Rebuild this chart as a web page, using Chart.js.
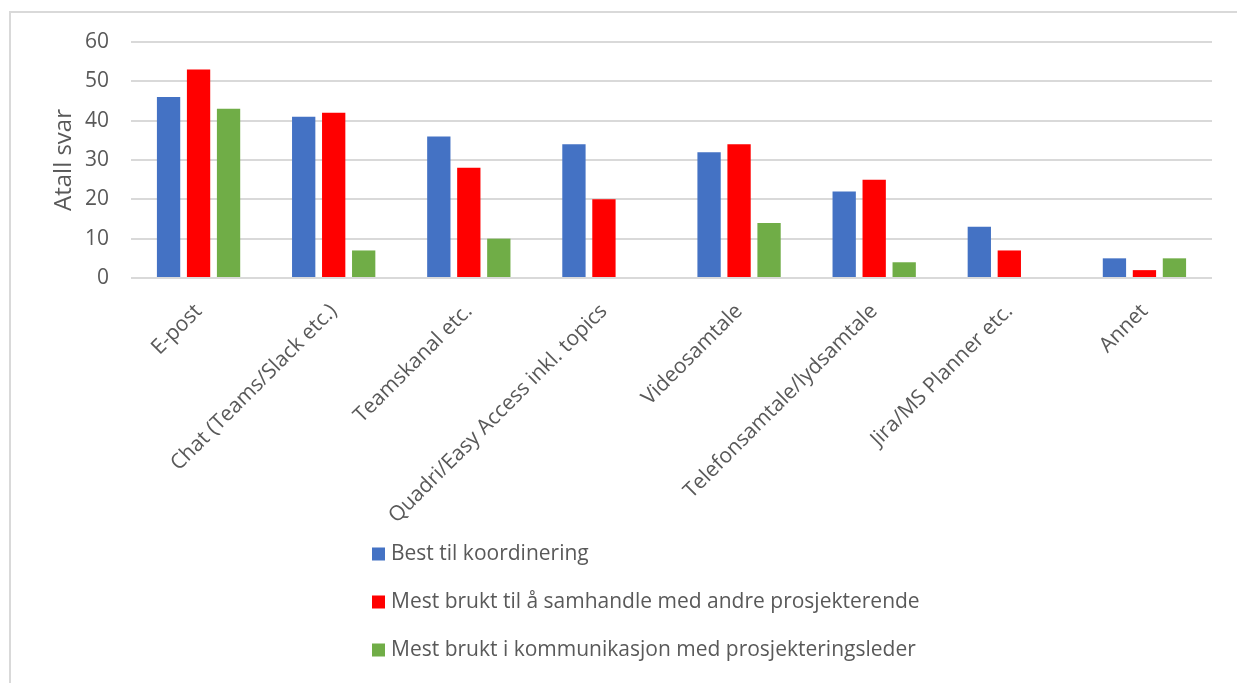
<!DOCTYPE html>
<html>
<head>
<meta charset="utf-8">
<script src="https://cdn.jsdelivr.net/npm/chart.js@4/dist/chart.umd.min.js"></script>
<style>
  html, body { margin: 0; padding: 0; background: #ffffff; }
  #wrap { position: relative; width: 1237px; height: 683px; }
  canvas { display: block; }
</style>
</head>
<body>
<div id="wrap"><canvas id="c" width="1237" height="683"></canvas></div>
<script>
// Categories (communication channels)
const categories = [
  'E-post',
  'Chat (Teams/Slack etc.)',
  'Teamskanal etc.',
  'Quadri/Easy Access inkl. topics',
  'Videosamtale',
  'Telefonsamtale/lydsamtale',
  'Jira/MS Planner etc.',
  'Annet'
];

// Series names
const seriesNames = [
  'Best til koordinering',
  'Mest brukt til å samhandle med andre prosjekterende',
  'Mest brukt i kommunikasjon med prosjekteringsleder'
];

// Number of answers per series
const bestKoordinering = [46, 41, 36, 34, 32, 22, 13, 5];
const samhandleProsjekterende = [53, 42, 28, 20, 34, 25, 7, 2];
const kommunikasjonLeder = [43, 7, 10, 0, 14, 4, 0, 5];

// Y axis ticks
const yTicks = [0, 10, 20, 30, 40, 50, 60];

const colors = ['#4472C4', '#FF0000', '#70AD47'];
const textColor = '#595959';
const gridColor = '#D9D9D9';
const FONT = '"Open Sans", "DejaVu Sans", sans-serif';

// Outer frame (left and top edges) of the chart object
const framePlugin = {
  id: 'frame',
  beforeDraw(chart) {
    const ctx = chart.ctx;
    ctx.save();
    ctx.strokeStyle = '#D9D9D9';
    ctx.lineWidth = 2;
    ctx.beginPath();
    ctx.moveTo(10, chart.height);
    ctx.lineTo(10, 12);
    ctx.lineTo(chart.width, 12);
    ctx.stroke();
    ctx.restore();
  }
};

// Legend stacked vertically below the axis labels
const stackedLegend = {
  id: 'stackedLegend',
  afterDraw(chart, args, opts) {
    const ctx = chart.ctx;
    ctx.save();
    ctx.font = opts.fontSize + 'px ' + FONT;
    ctx.textBaseline = 'middle';
    ctx.textAlign = 'left';
    chart.data.datasets.forEach((ds, i) => {
      const cy = opts.top + i * opts.rowGap;
      ctx.fillStyle = ds.backgroundColor;
      ctx.fillRect(opts.left, cy - opts.box / 2, opts.box, opts.box);
      ctx.fillStyle = textColor;
      ctx.fillText(ds.label, opts.left + opts.box + 6, cy);
    });
    ctx.restore();
  }
};

const datasets = [bestKoordinering, samhandleProsjekterende, kommunikasjonLeder].map((vals, i) => ({
  label: seriesNames[i],
  data: vals,
  backgroundColor: colors[i],
  borderWidth: 0,
  categoryPercentage: 0.666,
  barPercentage: 0.777
}));

new Chart(document.getElementById('c'), {
  type: 'bar',
  data: { labels: categories, datasets },
  plugins: [framePlugin, stackedLegend],
  options: {
    responsive: false,
    animation: false,
    layout: { padding: { top: 42, left: 40, right: 25, bottom: 140 } },
    plugins: {
      legend: { display: false },
      tooltip: { enabled: false },
      stackedLegend: { left: 372, top: 554, rowGap: 48, box: 13, fontSize: 21 }
    },
    scales: {
      x: {
        grid: { display: false },
        border: { display: false },
        ticks: {
          color: textColor,
          font: { family: FONT, size: 21 },
          minRotation: 45,
          maxRotation: 45,
          autoSkip: false,
          padding: 13
        },
        afterFit(scale) { scale.height = 265; }
      },
      y: {
        min: 0,
        max: 60,
        afterBuildTicks(scale) { scale.ticks = yTicks.map(v => ({ value: v })); },
        grid: { color: gridColor, lineWidth: 2, drawTicks: false },
        border: { display: false },
        ticks: {
          color: textColor,
          font: { family: FONT, size: 21 },
          padding: 22
        },
        title: {
          display: true,
          text: 'Atall svar',
          color: textColor,
          font: { family: FONT, size: 24 },
          padding: { top: 10, bottom: 0 }
        },
        afterFit(scale) { scale.width = 91; }
      }
    }
  }
});
</script>
</body>
</html>
